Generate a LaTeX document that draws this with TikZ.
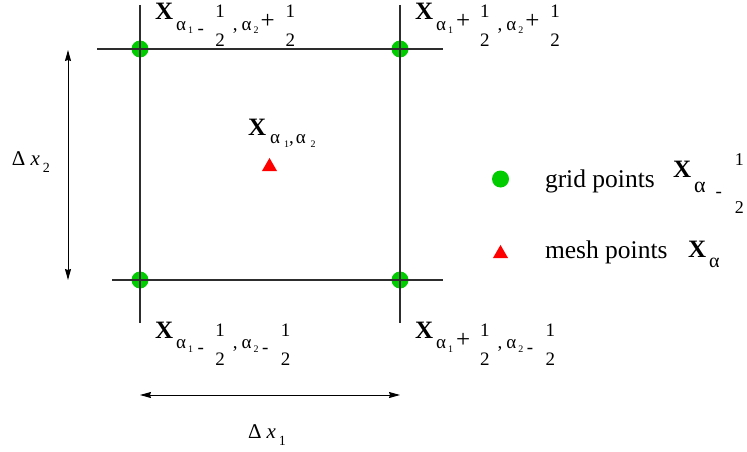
\documentclass[tikz,border=0pt]{standalone}
\usepackage{fontspec}
\setmainfont{Liberation Serif}
\usetikzlibrary{arrows.meta,shapes.geometric}
\definecolor{gridgreen}{RGB}{0,204,0}
\definecolor{meshred}{RGB}{255,0,0}
\definecolor{linegray}{RGB}{45,45,45}
\newcommand{\myXb}{{\fontsize{25}{25}\selectfont\bfseries X}}
\newcommand{\myAl}[1]{\raisebox{-10pt}{\fontsize{19}{19}\selectfont α}\hspace{2pt}\raisebox{-14pt}{\fontsize{10}{10}\selectfont #1}}
\newcommand{\myHf}{{\fontsize{19}{19}\selectfont\rlap{\raisebox{2pt}{1}}\raisebox{-27pt}{2}}}
\newcommand{\myMi}{\hspace{1.5pt}\raisebox{-15pt}{\fontsize{19}{19}\selectfont -}\hspace{1.5pt}}
\newcommand{\myPl}{\raisebox{-9pt}{\fontsize{25}{25}\selectfont +}}
\newcommand{\myCm}{\raisebox{-10pt}{\fontsize{19}{19}\selectfont ,}}
\newcommand{\myCorner}[2]{\myXb\hspace{3pt}\myAl{1}\hspace{3pt}#1\hspace{10pt}\myHf\hspace{8pt}\myCm\hspace{4pt}\myAl{2}\hspace{2pt}#2\hspace{11pt}\myHf}
\begin{document}
\begin{tikzpicture}[x=1pt,y=-1pt,
  gridline/.style={draw=linegray,line width=1.1pt},
  gpoint/.style={circle,fill=gridgreen,draw=none,minimum size=17pt,inner sep=0pt},
  mpoint/.style={regular polygon,regular polygon sides=3,fill=meshred,draw=none,minimum size=17.5pt,inner sep=0pt},
  lbl/.style={anchor=base west,inner sep=0pt,outer sep=0pt},
  dimarrow/.style={draw=black,line width=0.9pt,{Stealth[length=11pt,width=6pt,inset=1pt]}-{Stealth[length=11pt,width=6pt,inset=1pt]}}]
\useasboundingbox (0,0) rectangle (747,452);
% grid points
\node[gpoint] (p11) at (140,49) {};
\node[gpoint] (p21) at (400,49) {};
\node[gpoint] (p12) at (140,280) {};
\node[gpoint] (p22) at (400,280) {};
% line end coordinates
\coordinate (topW) at (97,49);
\coordinate (topE) at (443,49);
\coordinate (botW) at (112,280);
\coordinate (botE) at (443,280);
\coordinate (lefN) at (140,5);
\coordinate (lefS) at (140,323);
\coordinate (rigN) at (400,5);
\coordinate (rigS) at (400,323);
\draw[gridline] (topW) -- (topE);
\draw[gridline] (botW) -- (botE);
\draw[gridline] (lefN) -- (lefS);
\draw[gridline] (rigN) -- (rigS);
% corner labels
\node[lbl] (ltl) at (155,20) {\myCorner{\myMi}{\myPl}};
\node[lbl] (ltr) at (415,20) {\myCorner{\myPl}{\myPl}};
\node[lbl] (lbl1) at (155,338) {\myCorner{\myMi}{\myMi}};
\node[lbl] (lbr) at (415,338) {\myCorner{\myPl}{\myMi}};
% mesh point
\node[mpoint] (mesh) at (269.5,166.7) {};
\node[lbl] (lmesh) at (248,135) {\myXb\hspace{4pt}\raisebox{-8pt}{\fontsize{19}{19}\selectfont α}\hspace{4pt}\raisebox{-12pt}{\fontsize{10}{10}\selectfont 1}\raisebox{-8pt}{\fontsize{19}{19}\selectfont ,}\hspace{2pt}\raisebox{-8pt}{\fontsize{19}{19}\selectfont α}\hspace{5pt}\raisebox{-13pt}{\fontsize{10}{10}\selectfont 2}};
% dimension arrows
\coordinate (dyN) at (68,50);
\coordinate (dyS) at (68,280);
\coordinate (dxW) at (140,395);
\coordinate (dxE) at (400,395);
\draw[dimarrow] (dyN) -- (dyS);
\draw[dimarrow] (dxW) -- (dxE);
\node[lbl] (ldy) at (12,165) {\fontsize{21}{21}\selectfont Δ\hspace{5pt}\textit{x}\hspace{3pt}\raisebox{-7pt}{\fontsize{14}{14}\selectfont 2}};
\node[lbl] (ldx) at (248,438) {\fontsize{21}{21}\selectfont Δ\hspace{5pt}\textit{x}\hspace{3pt}\raisebox{-7pt}{\fontsize{14}{14}\selectfont 1}};
% legend
\node[gpoint] (leggrid) at (500.5,179) {};
\node[lbl] (tgrid) at (545,187) {\fontsize{25.5}{25.5}\selectfont grid points};
\node[lbl] (xgrid) at (673,177) {\myXb\hspace{3pt}\raisebox{-15pt}{\fontsize{22}{22}\selectfont α}\hspace{10pt}\raisebox{-20.5pt}{\fontsize{19}{19}\selectfont -}\hspace{13pt}{\fontsize{18}{18}\selectfont\rlap{\raisebox{12pt}{1}}\raisebox{-36pt}{2}}};
\node[mpoint] (legmesh) at (500.5,253.7) {};
\node[lbl] (tmesh) at (545,258) {\fontsize{25.5}{25.5}\selectfont mesh points};
\node[lbl] (xmesh) at (688,257) {\myXb\hspace{3pt}\raisebox{-10pt}{\fontsize{20}{20}\selectfont α}};
\end{tikzpicture}
\end{document}
